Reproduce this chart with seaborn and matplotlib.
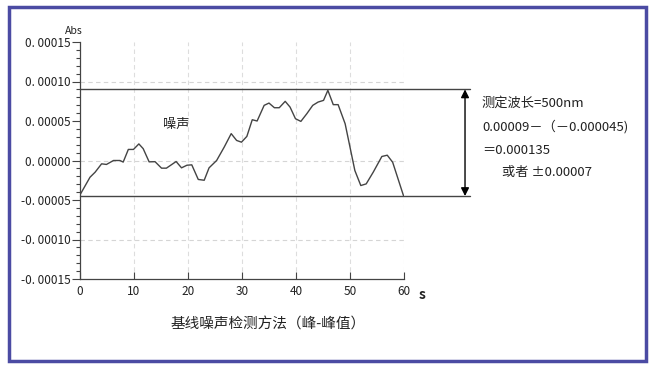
import matplotlib
matplotlib.use("Agg")
import numpy as np
import pandas as pd
import matplotlib.pyplot as plt
import seaborn as sns
from matplotlib.patches import Rectangle

# baseline noise trace
t = [0, 1.85, 2.8, 4.0, 4.9, 6.2, 7.4, 8.0, 8.95, 9.9, 10.9, 11.7, 12.8, 13.9,
     15.1, 16.0, 17.8, 18.8, 19.8, 20.7, 21.9, 23.0, 23.9, 25.3, 26.7, 28.0,
     29.0, 29.9, 30.9, 31.9, 32.8, 34.1, 35.0, 36.0, 36.9, 38.0, 38.9, 39.9,
     40.9, 42.0, 43.1, 44.1, 45.1, 45.9, 46.9, 47.8, 49.1, 50.9, 52.0, 53.0,
     54.3, 55.9, 56.9, 57.9, 59.9]
absorb = [-4.35, -2.12, -1.48, -0.42, -0.5, 0.0, 0.0, -0.2, 1.4, 1.4, 2.1, 1.5,
          -0.17, -0.15, -0.97, -0.97, -0.13, -0.93, -0.6, -0.55, -2.4, -2.5,
          -0.93, 0.0, 1.69, 3.4, 2.54, 2.32, 3.05, 5.16, 5.0, 6.98, 7.27, 6.68,
          6.68, 7.49, 6.76, 5.29, 4.95, 5.92, 6.98, 7.4, 7.61, 8.88, 7.07, 7.07,
          4.65, -1.27, -3.17, -2.96, -1.48, 0.51, 0.67, -0.22, -4.44]
absorb = [v * 1e-5 for v in absorb]

peak_hi = 0.00009
peak_lo = -0.000045
y_ticks = [-0.00015, -0.0001, -0.00005, 0, 0.00005, 0.0001, 0.00015]
y_labels = ["-0. 00015", "-0. 00010", "-0. 00005", "0. 00000",
            "0. 00005", "0. 00010", "0. 00015"]
x_ticks = [0, 10, 20, 30, 40, 50, 60]
notes = ["测定波长=500nm", "0.00009－（－0.000045)", "＝0.000135", "或者 ±0.00007"]

df = pd.DataFrame({"t": t, "abs": absorb})

sns.set_style("white")
plt.rcParams["font.family"] = ["Noto Sans CJK SC", "DejaVu Sans"]

W, H = 655, 365
fig = plt.figure(figsize=(W / 100, H / 100), dpi=100)
ax = fig.add_axes([80 / W, 1 - 279 / H, 324 / W, 237 / H])
ax.set_facecolor("none")

# frame around the whole picture
fig.patches.append(Rectangle((9 / W, 4 / H), 637 / W, 354 / H, transform=fig.transFigure,
                             fill=False, edgecolor="#4b4ba3", linewidth=2.5))

# dashed grid
for x in x_ticks[1:]:
    ax.axvline(x, color="#dddddd", lw=0.8, ls=(0, (4, 3)), zorder=0)
for y in [-0.0001, 0, 0.0001]:
    ax.axhline(y, color="#d5d5d5", lw=0.8, ls=(0, (4, 3)), zorder=0)

sns.lineplot(data=df, x="t", y="abs", ax=ax, color="#444444", lw=1.0)

# peak-to-peak lines, extended past the plot
x_end = 72.2
for y in [peak_hi, peak_lo]:
    ax.plot([0, x_end], [y, y], color="#444444", lw=1.0, clip_on=False)
ax.annotate("", xy=(71.3, peak_lo), xytext=(71.3, peak_hi),
            arrowprops=dict(arrowstyle="<|-|>", color="black", lw=1.0,
                            mutation_scale=12, shrinkA=0, shrinkB=0),
            annotation_clip=False)

ax.set_xlim(0, 60)
ax.set_ylim(-0.00015, 0.00015)
ax.set_xticks(x_ticks)
ax.set_xticklabels([str(x) for x in x_ticks], fontsize=8.5, color="#222222")
ax.set_yticks(y_ticks)
ax.set_yticklabels(y_labels, fontsize=8.5, color="#222222")
ax.set_yticks(np.arange(-0.00015, 0.000151, 0.00001), minor=True)
ax.tick_params(axis="y", which="major", direction="out", length=6, width=0.8,
               color="#444444", pad=1, left=True)
ax.tick_params(axis="y", which="minor", direction="out", length=3, width=0.8,
               color="#444444", left=True)
ax.tick_params(axis="x", which="major", direction="in", length=5, width=0.8,
               color="#444444", pad=4, bottom=True)
ax.set_xlabel("")
ax.set_ylabel("")
for side in ["top", "right"]:
    ax.spines[side].set_visible(False)
for side in ["left", "bottom"]:
    ax.spines[side].set_color("#444444")
    ax.spines[side].set_linewidth(0.9)

fig.text(74 / W, 1 - 31 / H, "Abs", fontsize=7.5, ha="center", va="center", color="#222222")
fig.text(422 / W, 1 - 295 / H, "s", fontsize=10, ha="center", va="center",
         color="#222222", fontweight="bold")
fig.text(176 / W, 1 - 124 / H, "噪声", fontsize=9.5, ha="center", va="center", color="#222222")

note_pos = [(482, 103), (482, 127), (482, 150), (502, 173)]
for (px, py), s in zip(note_pos, notes):
    fig.text(px / W, 1 - py / H, s, fontsize=9.5, ha="left", va="center", color="#222222")

fig.text(268 / W, 1 - 325 / H, "基线噪声检测方法（峰-峰值）", fontsize=10.5,
         ha="center", va="center", color="#222222")

fig.savefig("out.png", dpi=100)
